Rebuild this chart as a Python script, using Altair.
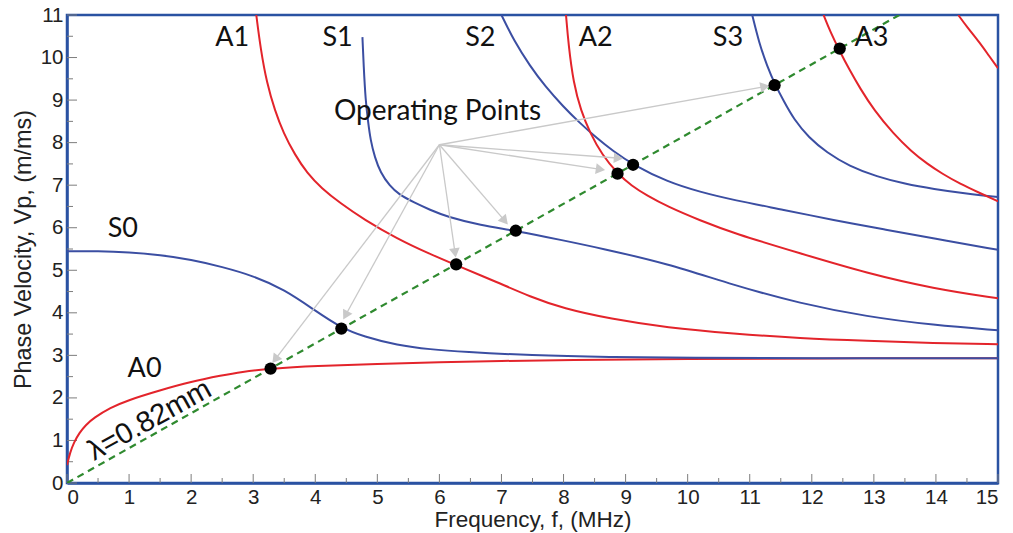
import math
import altair as alt
import pandas as pd

# ---------------- data ----------------
A0_f = [0, 0.05, 0.11, 0.2, 0.3, 0.43, 0.7, 0.97, 1.5, 2.0, 2.5, 2.8, 3.28, 4.0, 5.0, 6.0, 7.0, 8.0, 10.0, 12.0, 15.0]
A0_v = [0.42, 0.72, 0.95, 1.18, 1.36, 1.53, 1.77, 1.94, 2.18, 2.38, 2.53, 2.61, 2.69, 2.75, 2.8, 2.84, 2.87, 2.89, 2.92, 2.93, 2.93]

S0_f = [0, 0.5, 1.0, 1.5, 2.0, 2.5, 3.0, 3.5, 4.0, 4.4, 4.78, 5.32, 5.85, 6.39, 7.46, 8.75, 10.0, 12.0, 15.0]
S0_v = [5.45, 5.45, 5.42, 5.36, 5.25, 5.08, 4.87, 4.55, 4.05, 3.66, 3.44, 3.24, 3.14, 3.08, 3.0, 2.96, 2.94, 2.93, 2.93]

A1_f = [3.05, 3.12, 3.22, 3.35, 3.49, 3.67, 3.87, 4.1, 4.4, 4.78, 5.32, 5.85, 6.27, 6.93, 7.46, 8.0, 8.75, 9.67, 10.74, 11.81, 12.89, 13.96, 15.0]
A1_v = [11.0, 10.2, 9.4, 8.75, 8.22, 7.72, 7.28, 6.93, 6.58, 6.2, 5.74, 5.38, 5.12, 4.72, 4.38, 4.1, 3.86, 3.65, 3.51, 3.40, 3.34, 3.29, 3.26]

S1_f = [4.76, 4.78, 4.81, 4.85, 4.89, 4.96, 5.05, 5.2, 5.35, 5.58, 5.85, 6.12, 6.66, 7.23, 8.0, 8.59, 9.67, 10.74, 11.81, 12.89, 13.96, 15.0]
S1_v = [10.48, 9.8, 9.0, 8.5, 8.06, 7.65, 7.3, 6.98, 6.78, 6.6, 6.42, 6.26, 6.06, 5.93, 5.7, 5.52, 5.16, 4.65, 4.22, 3.91, 3.71, 3.59]

S2_f = [7.0, 7.2, 7.46, 7.7, 8.0, 8.25, 8.54, 8.8, 9.12, 9.67, 10.2, 10.74, 11.55, 12.35, 13.16, 13.96, 15.0]
S2_v = [11.0, 10.4, 9.8, 9.33, 8.84, 8.48, 8.1, 7.8, 7.48, 7.08, 6.84, 6.65, 6.42, 6.18, 5.96, 5.75, 5.48]

A2_f = [8.04, 8.08, 8.16, 8.28, 8.43, 8.62, 8.87, 9.1, 9.34, 9.67, 10.2, 10.74, 11.81, 12.89, 13.96, 15.0]
A2_v = [11.0, 10.3, 9.4, 8.75, 8.22, 7.72, 7.27, 6.98, 6.76, 6.5, 6.17, 5.87, 5.40, 4.93, 4.57, 4.34]

S3_f = [11.04, 11.15, 11.28, 11.41, 11.55, 11.71, 11.95, 12.24, 12.6, 13.05, 13.5, 13.96, 14.5, 15.0]
S3_v = [11.0, 10.35, 9.8, 9.36, 8.97, 8.55, 8.12, 7.77, 7.45, 7.2, 7.03, 6.91, 6.8, 6.72]

A3_f = [12.19, 12.3, 12.45, 12.6, 12.78, 13.0, 13.32, 13.6, 13.86, 14.1, 14.39, 14.7, 15.0]
A3_v = [11.0, 10.6, 10.15, 9.73, 9.27, 8.77, 8.2, 7.8, 7.5, 7.27, 7.03, 6.82, 6.62]

A4_f = [14.36, 14.5, 14.71, 14.85, 15.0]
A4_v = [11.0, 10.72, 10.34, 10.05, 9.75]

wave_f = [0, 13.41]          # lambda = 0.82 mm line
wave_v = [0, 11.0]

op_names = ["A0", "S0", "A1", "S1", "A2", "S2", "S3", "A3"]
op_f = [3.28, 4.42, 6.27, 7.23, 8.87, 9.12, 11.4, 12.45]
op_v = [2.69, 3.63, 5.14, 5.93, 7.27, 7.48, 9.35, 10.21]

hub_f, hub_v = 6.0, 7.95
tip_names = ["A0", "S0", "A1", "S1", "A2", "S2", "S3"]
tip_f = [3.32, 4.46, 6.26, 7.09, 8.65, 8.94, 11.3]
tip_v = [2.84, 3.87, 5.33, 6.10, 7.36, 7.63, 9.33]

lab_text = ["A1", "S1", "S2", "A2", "S3", "A3", "S0", "A0"]
lab_f = [2.66, 4.36, 6.66, 8.52, 10.65, 12.96, 0.90, 1.25]
lab_v = [10.46, 10.46, 10.46, 10.46, 10.46, 10.46, 5.96, 2.67]

x_major = list(range(0, 16))
x_minor = [i + 0.5 for i in range(0, 15)]
y_major = list(range(0, 12))
y_minor = [i + 0.5 for i in range(0, 11)]

# ---------------- layout / style ----------------
W, H = 931, 468
PXF, PXV = W / 15.0, H / 11.0
RED = "#e3242b"
BLUE = "#3b4ea2"
AXC = "#2a52a2"
GRAY = "#c9c9c9"

curves = {"A0": (A0_f, A0_v, "A"), "S0": (S0_f, S0_v, "S"), "A1": (A1_f, A1_v, "A"),
          "S1": (S1_f, S1_v, "S"), "S2": (S2_f, S2_v, "S"), "A2": (A2_f, A2_v, "A"),
          "S3": (S3_f, S3_v, "S"), "A3": (A3_f, A3_v, "A"), "A4": (A4_f, A4_v, "A")}
rows = []
for name, (fs, vs, kind) in curves.items():
    for i, (f, v) in enumerate(zip(fs, vs)):
        rows.append({"mode": name, "kind": kind, "f": f, "v": v, "i": i})
curve_df = pd.DataFrame(rows)

xs = alt.Scale(domain=[0, 15], nice=False, zero=False)
ys = alt.Scale(domain=[0, 11], nice=False, zero=False)

x_axis = alt.Axis(values=x_major, format="d", tickSize=0, labelPadding=4, labelFontSize=20.5,
                  labelFont="Liberation Sans", labelColor="#222", domainColor=AXC, domainWidth=2.5,
                  grid=False, title="Frequency, f, (MHz)", titleFont="Liberation Sans",
                  titleFontSize=22.5, titleFontWeight="normal", titleColor="#222",
                  titleY=43, titleBaseline="alphabetic")
y_axis = alt.Axis(values=y_major, format="d", tickSize=0, labelPadding=4, labelFontSize=20.5,
                  labelFont="Liberation Sans", labelColor="#222", domainColor=AXC, domainWidth=2.5,
                  grid=False, title="Phase Velocity, Vp, (m/ms)", titleFont="Liberation Sans",
                  titleFontSize=23.4, titleFontWeight="normal", titleColor="#222",
                  titleX=-37, titleBaseline="alphabetic")

lines = alt.Chart(curve_df).mark_line(strokeWidth=2, interpolate="basis", clip=True).encode(
    x=alt.X("f:Q", scale=xs, axis=x_axis),
    y=alt.Y("v:Q", scale=ys, axis=y_axis),
    color=alt.Color("kind:N", scale=alt.Scale(domain=["A", "S"], range=[RED, BLUE]), legend=None),
    detail="mode:N",
    order="i:Q",
)

wave_df = pd.DataFrame({"f": wave_f, "v": wave_v})
wave = alt.Chart(wave_df).mark_line(color="#2f8a2f", strokeWidth=2.2, strokeDash=[7, 5], clip=True).encode(
    x=alt.X("f:Q", scale=xs), y=alt.Y("v:Q", scale=ys))

# arrows
arows, heads = [], []
for n, tf, tv in zip(tip_names, tip_f, tip_v):
    dxp = (tf - hub_f) * PXF
    dyp = -(tv - hub_v) * PXV
    L = math.hypot(dxp, dyp)
    ux, uy = dxp / L, dyp / L
    cf = tf - 5 * ux / PXF
    cv = tv + 5 * uy / PXV
    ang = math.degrees(math.atan2(ux, -uy)) % 360
    arows.append({"n": n, "f": hub_f, "v": hub_v, "f2": cf, "v2": cv})
    heads.append({"n": n, "f": cf, "v": cv, "ang": ang})
arrow_df = pd.DataFrame(arows)
head_df = pd.DataFrame(heads)

arrow_lines = alt.Chart(arrow_df).mark_rule(color=GRAY, strokeWidth=1.3).encode(
    x=alt.X("f:Q", scale=xs), y=alt.Y("v:Q", scale=ys), x2="f2:Q", y2="v2:Q")
arrow_heads = alt.Chart(head_df).mark_point(shape="triangle", filled=True, size=115, color=GRAY, opacity=1).encode(
    x=alt.X("f:Q", scale=xs), y=alt.Y("v:Q", scale=ys), angle=alt.Angle("ang:Q", scale=None))

pts_df = pd.DataFrame({"n": op_names, "f": op_f, "v": op_v})
pts = alt.Chart(pts_df).mark_point(shape="circle", filled=True, size=150, color="#000", opacity=1).encode(
    x=alt.X("f:Q", scale=xs), y=alt.Y("v:Q", scale=ys))

lab_df = pd.DataFrame({"t": lab_text, "f": lab_f, "v": lab_v})
labels = alt.Chart(lab_df).mark_text(font="Lato", fontSize=27, color="#111", align="center", baseline="middle").encode(
    x=alt.X("f:Q", scale=xs), y=alt.Y("v:Q", scale=ys), text="t:N")

op_df = pd.DataFrame({"t": ["Operating Points"], "f": [5.97], "v": [8.72]})
op_text = alt.Chart(op_df).mark_text(font="Lato", fontSize=28, color="#111", align="center", baseline="middle").encode(
    x=alt.X("f:Q", scale=xs), y=alt.Y("v:Q", scale=ys), text="t:N")

lam_df = pd.DataFrame({"t": ["λ=0.82mm"], "f": [1.33], "v": [1.48]})
lam_text = alt.Chart(lam_df).mark_text(font="Liberation Sans", fontSize=29, color="#111", align="center",
                                       baseline="middle", angle=331).encode(
    x=alt.X("f:Q", scale=xs), y=alt.Y("v:Q", scale=ys), text="t:N")

# inward ticks
def xticks(vals, length):
    return alt.Chart(pd.DataFrame({"t": vals})).mark_rule(color="#7d7d7d", strokeWidth=1).encode(
        x=alt.X("t:Q", scale=xs), y=alt.value(H), y2=alt.value(H - length))

def yticks(vals, length):
    return alt.Chart(pd.DataFrame({"t": vals})).mark_rule(color="#7d7d7d", strokeWidth=1).encode(
        y=alt.Y("t:Q", scale=ys), x=alt.value(0), x2=alt.value(length))

chart = alt.layer(
    xticks(x_major, 9), xticks(x_minor, 5), yticks(y_major, 10), yticks(y_minor, 6),
    lines, wave, arrow_lines, arrow_heads, pts, labels, op_text, lam_text,
).properties(
    width=W, height=H,
    autosize=alt.AutoSizeParams(type="none"),
    padding={"left": 67, "top": 15, "right": 15, "bottom": 50},
    background="white",
).configure_view(stroke=AXC, strokeWidth=2.5)

chart.save("out.html", embed_options={"renderer": "svg", "actions": False})
